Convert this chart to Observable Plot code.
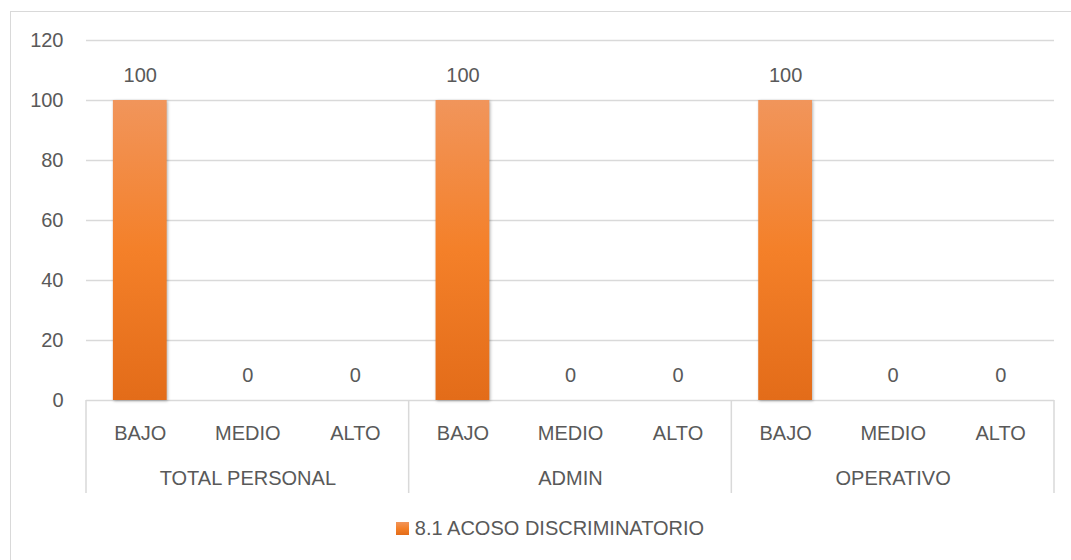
<!DOCTYPE html>
<html>
<head>
<meta charset="utf-8">
<script src="https://cdn.jsdelivr.net/npm/d3@7"></script>
<script src="https://cdn.jsdelivr.net/npm/@observablehq/plot@0.6"></script>
<style>
  html, body { margin: 0; padding: 0; background: #fff; }
  #wrap { position: relative; width: 1071px; height: 560px; overflow: hidden; font-family: "Liberation Sans", Arial, sans-serif; }
  #frame { position: absolute; left: 10px; top: 11px; width: 1200px; height: 700px; border-left: 1.5px solid #d9d9d9; border-top: 1.5px solid #d9d9d9; }
  #chart { position: absolute; left: 0; top: 0; }
  #legend { position: absolute; left: 0; top: 517px; width: 1100px; text-align: center; font-size: 20px; color: #595959; }
  #legend .sw { display: inline-block; width: 13px; height: 13px; background: linear-gradient(#F1955B, #F48029, #E36C19); margin-right: 6px; vertical-align: 0px; }
  g[aria-label="bar"] rect { filter: drop-shadow(1.5px 1.5px 1.5px rgba(0,0,0,0.3)); }
</style>
</head>
<body>
<div id="wrap">
  <div id="frame"></div>
  <div id="chart"></div>
  <div id="legend"></div>
</div>
<script>
// ---- data ----
const groups = ["TOTAL PERSONAL", "ADMIN", "OPERATIVO"];
const levels = ["BAJO", "MEDIO", "ALTO"];
const totalPersonal = [100, 0, 0];
const admin = [100, 0, 0];
const operativo = [100, 0, 0];
const yTicks = [0, 20, 40, 60, 80, 100, 120];
const seriesName = "8.1 ACOSO DISCRIMINATORIO";

const seriesByGroup = [totalPersonal, admin, operativo];
const rows = [];
groups.forEach((g, gi) => levels.forEach((l, li) => rows.push({group: g, level: l, key: g + "|" + l, value: seriesByGroup[gi][li]})));
const keys = rows.map(d => d.key);
const midKeys = groups.map(g => g + "|" + levels[1]);
const firstKeys = groups.map(g => g + "|" + levels[0]);

const textColor = "#595959";
const gridColor = "#d9d9d9";
const fontSize = 20;

const separators = (index, scales, values, dimensions) => {
  const xs = firstKeys.map(k => scales.x(k));
  xs.push(dimensions.width - dimensions.marginRight);
  const y0 = dimensions.height - dimensions.marginBottom;
  const g = d3.create("svg:g");
  g.selectAll("line").data(xs).join("line")
    .attr("x1", d => d).attr("x2", d => d)
    .attr("y1", y0).attr("y2", y0 + 93)
    .attr("stroke", gridColor).attr("stroke-width", 1.5);
  return g.node();
};

const defs = () => {
  const svg = d3.create("svg:defs");
  const lg = svg.append("linearGradient").attr("id", "barGrad").attr("x1", 0).attr("y1", 0).attr("x2", 0).attr("y2", 1);
  lg.append("stop").attr("offset", "0%").attr("stop-color", "#F1955B");
  lg.append("stop").attr("offset", "50%").attr("stop-color", "#F48029");
  lg.append("stop").attr("offset", "100%").attr("stop-color", "#E36C19");
  return svg.node();
};

const chart = Plot.plot({
  width: 1071,
  height: 510,
  marginLeft: 86,
  marginRight: 17,
  marginTop: 40,
  marginBottom: 110,
  style: {fontFamily: '"Liberation Sans", Arial, sans-serif', fontSize: fontSize + "px", color: textColor, background: "transparent"},
  x: {domain: keys, padding: 0, round: false, label: null},
  y: {domain: [0, 120], label: null},
  marks: [
    defs,
    Plot.gridY(yTicks, {stroke: gridColor, strokeOpacity: 1, strokeWidth: 1.5}),
    Plot.axisY(yTicks, {tickSize: 0, tickPadding: 23, fill: textColor, fontSize: fontSize, label: null}),
    Plot.axisX({tickSize: 0, tickPadding: 25, tickFormat: k => k.split("|")[1], fill: textColor, fontSize: fontSize, label: null}),
    Plot.axisX(midKeys, {tickSize: 0, tickPadding: 70, tickFormat: k => k.split("|")[0], fill: textColor, fontSize: fontSize, label: null}),
    separators,
    Plot.barY(rows, {x: "key", y: "value", fill: "url(#barGrad)", insetLeft: 26.9, insetRight: 26.9}),
    Plot.text(rows, {x: "key", y: "value", text: d => String(d.value), dy: -25, fill: textColor, fontSize: fontSize})
  ]
});
document.getElementById("chart").appendChild(chart);

const legend = document.getElementById("legend");
legend.innerHTML = '<span class="sw"></span>' + seriesName;
</script>
</body>
</html>
